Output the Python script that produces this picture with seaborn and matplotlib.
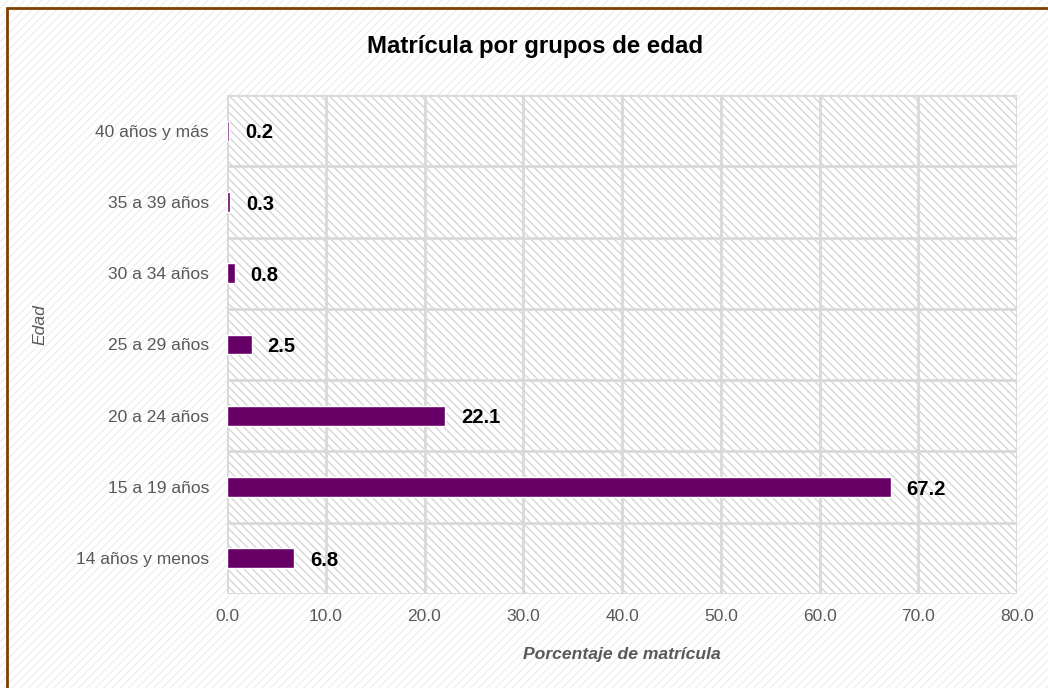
import matplotlib
matplotlib.use("Agg")
import matplotlib.pyplot as plt
import seaborn as sns
import pandas as pd
from matplotlib.patches import Rectangle
from matplotlib import font_manager

# Datos
grupos = ["40 años y más", "35 a 39 años", "30 a 34 años", "25 a 29 años",
          "20 a 24 años", "15 a 19 años", "14 años y menos"]
porcentajes = [0.2, 0.3, 0.8, 2.5, 22.1, 67.2, 6.8]
ticks_x = [0, 10, 20, 30, 40, 50, 60, 70, 80]

df = pd.DataFrame({"Edad": grupos, "Porcentaje": porcentajes})

sns.set_theme(style="white")
nombres = {f.name for f in font_manager.fontManager.ttflist}
narrow = "Liberation Sans Narrow" in nombres
if narrow:
    plt.rcParams['font.family'] = ['Liberation Sans Narrow', 'DejaVu Sans']
    k = 1.19
else:
    plt.rcParams['font.family'] = ['Liberation Sans', 'DejaVu Sans']
    k = 1.0
plt.rcParams['hatch.linewidth'] = 1.0

fig = plt.figure(figsize=(10.48, 6.88), dpi=100)
fig.patch.set_facecolor("white")

# Fondo rayado de la figura y borde marrón
fondo = Rectangle((0, 0), 1, 1, transform=fig.transFigure, facecolor="white",
                  edgecolor="#efefef", hatch="////", linewidth=0, zorder=-10)
fig.patches.append(fondo)
borde = Rectangle((7 / 1048, -0.05), 1.2, 1 - 8 / 688 + 0.05, transform=fig.transFigure,
                  fill=False, edgecolor="#7f3f00", linewidth=2, zorder=10)
fig.patches.append(borde)

ax = fig.add_axes([227 / 1048, 1 - 594 / 688, (1017 - 227) / 1048, (594 - 95) / 688])
ax.patch.set_facecolor("white")
ax.patch.set_edgecolor("#d6d6d6")
ax.patch.set_hatch("\\\\\\\\")
ax.patch.set_linewidth(0)

sns.barplot(data=df, x="Porcentaje", y="Edad", orient="h", color="#660066",
            width=0.28, saturation=1, ax=ax, zorder=3)

ax.set_xlim(0, 80)
ax.set_xticks(ticks_x)
ax.set_xticklabels([f"{t:.1f}" for t in ticks_x])
ax.set_ylim(len(grupos) - 0.5, -0.5)
ax.set_yticks([i + 0.5 for i in range(-1, len(grupos))], minor=True)

ax.grid(axis="x", which="major", color="#d9d9d9", linewidth=2, zorder=1)
ax.grid(axis="y", which="minor", color="#d9d9d9", linewidth=2, zorder=1)
ax.grid(axis="y", which="major", visible=False)
for s in ax.spines.values():
    s.set_visible(False)
ax.tick_params(axis="both", which="both", length=0, labelsize=12.5 * k, colors="#595959")
ax.tick_params(axis="x", pad=11)
ax.tick_params(axis="y", pad=13)

for i, v in enumerate(porcentajes):
    ax.text(v + 1.6, i + 0.03, f"{v:.1f}", va="center", ha="left", fontsize=14.5 * k,
            fontweight="bold", color="black", zorder=5)

ax.set_xlabel("Porcentaje de matrícula", fontsize=12.6 * k, fontstyle="italic",
              fontweight="bold", color="#595959", labelpad=16)
ax.set_ylabel("Edad", fontsize=12.6 * k, fontstyle="italic", color="#595959")
ax.yaxis.set_label_coords(-0.227, 0.539)

fig.text(535 / 1048, 1 - 47 / 688, "Matrícula por grupos de edad", ha="center",
         va="center", fontsize=17.3 * k, fontweight="bold", color="black")

fig.savefig("out.png", dpi=100)
